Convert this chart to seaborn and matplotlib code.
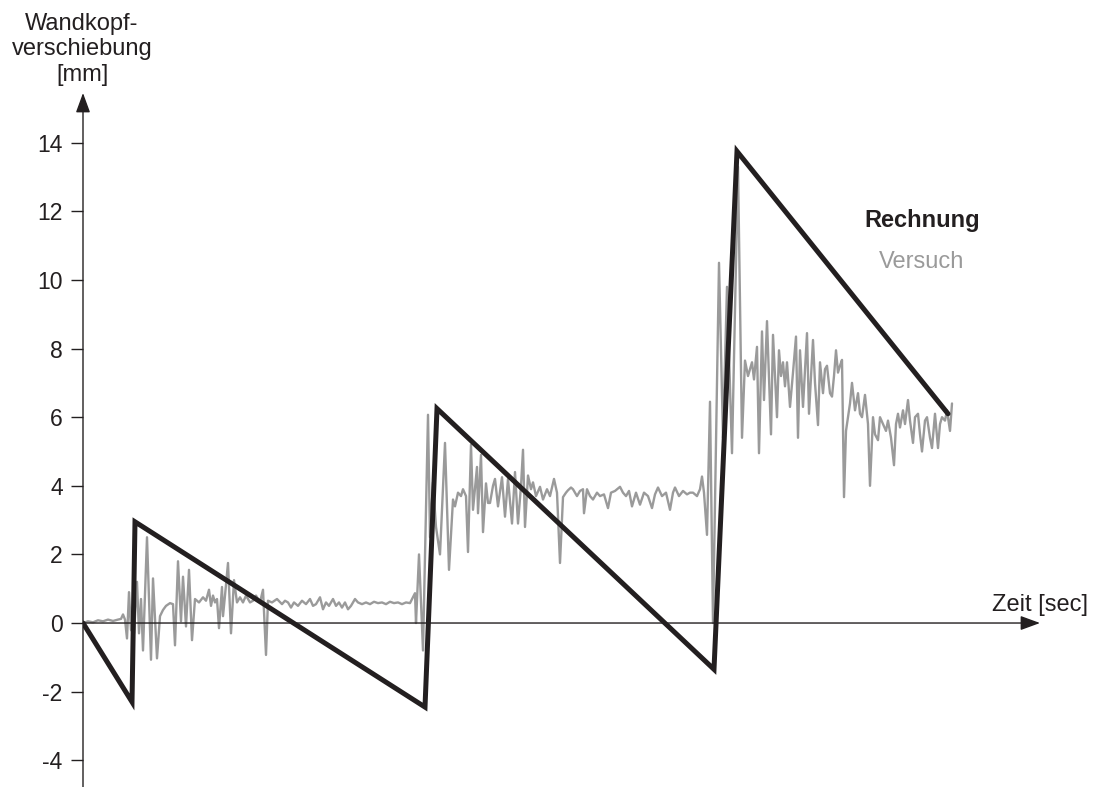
import numpy as np
import pandas as pd
import seaborn as sns
import matplotlib
matplotlib.use("Agg")
import matplotlib.pyplot as plt

# Measured wall-head displacement (Versuch)
versuch_t = [
    0.0, 0.5, 1.0, 1.5, 2.0, 2.5, 3.0, 3.5, 3.8, 4.0, 4.2, 4.4, 4.6, 4.8, 5.1, 5.4, 5.6, 5.8, 6.0, 6.4,
    6.8, 7.0, 7.4, 7.7, 8.0, 8.3, 8.7, 9.0, 9.2, 9.5, 9.8, 10.0, 10.3, 10.6, 10.9, 11.2, 11.6, 12.0, 12.3, 12.6,
    12.8, 13.0, 13.2, 13.4, 13.6, 13.9, 14.0, 14.2, 14.5, 14.8, 15.1, 15.4, 15.7, 16.0, 16.3, 16.7, 17.0, 17.3, 17.7, 18.0,
    18.3, 18.5, 18.9, 19.4, 19.9, 20.2, 20.5, 20.8, 21.1, 21.5, 21.9, 22.3, 22.7, 23.0, 23.3, 23.7, 24.0, 24.3, 24.6, 25.0,
    25.3, 25.6, 25.9, 26.2, 26.5, 26.8, 27.2, 27.5, 27.9, 28.3, 28.7, 29.1, 29.5, 29.9, 30.3, 30.7, 31.1, 31.5, 31.9, 32.3,
    32.7, 33.0, 33.2, 33.3, 33.6, 34.0, 34.5, 34.7, 35.0, 35.3, 35.7, 36.2, 36.6, 37.0, 37.2, 37.5, 37.8, 38.0, 38.3, 38.5,
    38.8, 39.0, 39.4, 39.5, 39.8, 40.0, 40.3, 40.5, 40.7, 41.0, 41.2, 41.5, 41.9, 42.2, 42.5, 42.9, 43.2, 43.5, 43.8, 44.0,
    44.2, 44.5, 44.8, 45.0, 45.3, 45.7, 46.0, 46.4, 46.7, 47.1, 47.4, 47.7, 48.0, 48.3, 48.5, 48.8, 49.0, 49.4, 49.7, 50.0,
    50.1, 50.4, 50.7, 51.0, 51.4, 51.7, 52.1, 52.5, 52.8, 53.2, 53.7, 54.0, 54.3, 54.6, 54.9, 55.3, 55.7, 56.1, 56.5, 56.9,
    57.2, 57.5, 57.9, 58.3, 58.7, 59.0, 59.2, 59.6, 60.0, 60.4, 60.7, 61.0, 61.4, 61.7, 61.9, 62.1, 62.4, 62.7, 63.0, 63.6,
    64.0, 64.4, 64.9, 65.5, 65.9, 66.2, 66.5, 66.9, 67.1, 67.4, 67.6, 67.9, 68.1, 68.4, 68.8, 69.0, 69.4, 69.6, 69.8, 70.0,
    70.2, 70.4, 70.7, 71.0, 71.3, 71.5, 71.7, 72.0, 72.2, 72.4, 72.6, 72.8, 73.0, 73.2, 73.5, 73.7, 74.0, 74.2, 74.4, 74.7,
    74.9, 75.1, 75.3, 75.5, 75.7, 75.9, 76.1, 76.3, 76.5, 76.7, 76.9, 77.2, 77.5, 77.7, 77.9, 78.2, 78.5, 78.7, 79.0, 79.2,
    79.5, 79.7, 80.0, 80.3, 80.5, 80.8, 81.1, 81.3, 81.5, 81.7, 82.0, 82.2, 82.5, 82.7, 83.0, 83.2, 83.5, 83.7, 83.9, 84.2,
    84.4, 84.7, 84.9, 85.2, 85.5, 85.7, 85.9, 86.2, 86.4, 86.7, 86.9,
]
versuch_mm = [
    0.0, 0.05, 0.02, 0.08, 0.05, 0.1, 0.06, 0.1, 0.12, 0.25, 0.1, -0.45, 0.9, -0.2, -0.3, 1.2, -0.3, 0.7, -0.8, 2.5,
    -1.07, 1.3, -1.03, 0.2, 0.38, 0.5, 0.58, 0.55, -0.65, 1.8, 0.05, 1.35, -0.1, 1.55, -0.5, 0.7, 0.6, 0.75, 0.65, 0.97,
    0.5, 0.8, 0.6, 0.7, -0.15, 1.05, 0.2, 0.8, 1.75, -0.3, 1.25, 0.6, 0.75, 0.6, 0.8, 0.6, 0.65, 0.8, 0.6, 0.97,
    -0.93, 0.65, 0.6, 0.7, 0.55, 0.65, 0.6, 0.45, 0.6, 0.5, 0.65, 0.55, 0.7, 0.5, 0.55, 0.75, 0.4, 0.6, 0.5, 0.7,
    0.5, 0.6, 0.45, 0.6, 0.4, 0.5, 0.7, 0.6, 0.55, 0.6, 0.55, 0.62, 0.58, 0.6, 0.55, 0.62, 0.58, 0.6, 0.55, 0.6,
    0.58, 0.75, 0.87, 0.0, 2.0, -0.8, 6.07, 2.5, 4.1, 2.8, 2.0, 5.25, 1.55, 3.6, 3.4, 3.8, 3.7, 3.9, 3.7, 2.07,
    5.2, 3.3, 4.55, 3.2, 4.9, 2.65, 4.07, 3.5, 3.5, 4.0, 4.2, 3.4, 4.25, 3.1, 4.2, 2.9, 4.4, 2.9, 4.0, 5.05,
    2.8, 4.3, 3.9, 4.1, 3.7, 3.97, 3.6, 3.9, 3.7, 4.2, 3.8, 1.75, 3.67, 3.8, 3.87, 3.95, 3.9, 3.7, 3.85, 3.9,
    3.2, 3.9, 3.7, 3.6, 3.8, 3.7, 3.75, 3.35, 3.8, 3.85, 3.97, 3.8, 3.7, 3.85, 3.4, 3.8, 3.45, 3.8, 3.7, 3.35,
    3.75, 3.95, 3.7, 3.8, 3.3, 3.8, 3.95, 3.7, 3.85, 3.75, 3.8, 3.8, 3.7, 3.9, 4.27, 3.8, 2.57, 6.45, 0.0, 10.5,
    5.4, 9.8, 4.95, 13.3, 5.4, 7.65, 7.2, 7.6, 7.1, 8.05, 4.95, 8.5, 6.5, 8.8, 5.5, 8.4, 6.0, 7.95, 7.2, 7.6,
    6.9, 7.6, 6.3, 7.3, 8.35, 5.4, 7.95, 6.3, 7.4, 8.45, 6.1, 7.2, 8.25, 7.0, 5.77, 7.6, 6.7, 7.4, 7.5, 6.7,
    6.6, 7.2, 7.95, 7.3, 7.5, 7.67, 3.67, 5.6, 6.0, 6.4, 7.0, 6.2, 6.7, 6.1, 6.0, 6.65, 5.8, 4.0, 6.0, 5.5,
    5.33, 6.0, 5.8, 5.6, 5.9, 5.4, 4.6, 5.8, 6.1, 5.7, 6.2, 5.8, 6.5, 5.9, 5.25, 6.0, 6.1, 5.5, 5.0, 5.9,
    6.0, 5.4, 5.1, 6.1, 5.1, 5.8, 6.0, 5.9, 6.2, 5.6, 6.4,
]

# Computed wall-head displacement (Rechnung)
rechnung_t = [0.0, 4.9, 5.2, 34.2, 35.4, 63.1, 65.4, 86.5]
rechnung_mm = [0.0, -2.3, 2.95, -2.45, 6.25, -1.35, 13.75, 6.1]

y_ticks = [-4, -2, 0, 2, 4, 6, 8, 10, 12, 14]

sns.set_theme(style="white")
plt.rcParams["font.family"] = ["Liberation Sans", "DejaVu Sans"]

ink = "#231f20"
grey = "#9a9a9a"

W, H = 1094, 787
fig = plt.figure(figsize=(W / 100, H / 100), dpi=100)
ax = fig.add_axes([83 / W, 0.0, (1040 - 83) / W, (787 - 93) / H])

x_min, x_max = 0.0, 95.7
y_min, y_max = -4.78, 15.45

df_v = pd.DataFrame({"t": versuch_t, "mm": versuch_mm})
df_r = pd.DataFrame({"t": rechnung_t, "mm": rechnung_mm})

sns.lineplot(data=df_v, x="t", y="mm", ax=ax, color=grey, linewidth=1.7,
             estimator=None, sort=False)
sns.lineplot(data=df_r, x="t", y="mm", ax=ax, color=ink, linewidth=3.6,
             estimator=None, sort=False, solid_joinstyle="miter")

ax.set_xlim(x_min, x_max)
ax.set_ylim(y_min, y_max)
for s in ax.spines.values():
    s.set_visible(False)
ax.set_xlabel("")
ax.set_ylabel("")
ax.set_xticks([])
ax.set_yticks(y_ticks)
ax.set_yticklabels([str(v) for v in y_ticks])
ax.tick_params(axis="y", which="major", left=True, length=8.6, width=1.0,
               color=ink, labelsize=16.5, labelcolor=ink, pad=6.0, direction="out")
ax.grid(False)

# Axes with arrow heads
arrow_kw = dict(arrowstyle="-|>,head_length=0.6,head_width=0.22", lw=1.0,
                color=ink, mutation_scale=20, shrinkA=0, shrinkB=0)
ax.annotate("", xy=(0, y_max), xytext=(0, y_min), xycoords="data",
            arrowprops=arrow_kw, annotation_clip=False)
ax.annotate("", xy=(x_max, 0), xytext=(0, 0), xycoords="data",
            arrowprops=arrow_kw, annotation_clip=False)

# Axis titles
fig.text(82 / W, 1 - 13 / H, "Wandkopf-\nverschiebung\n[mm]", ha="center", va="top",
         fontsize=17, color=ink, linespacing=1.2)
fig.text(1040 / W, 1 - 605 / H, "Zeit [sec]", ha="center", va="center",
         fontsize=17, color=ink)

# Series labels
fig.text(922 / W, 1 - 220 / H, "Rechnung", ha="center", va="center",
         fontsize=17, fontweight="bold", color=ink)
fig.text(922 / W, 1 - 262 / H, "Versuch", ha="center", va="center",
         fontsize=17, color=grey)

fig.savefig("out.png", dpi=100)
